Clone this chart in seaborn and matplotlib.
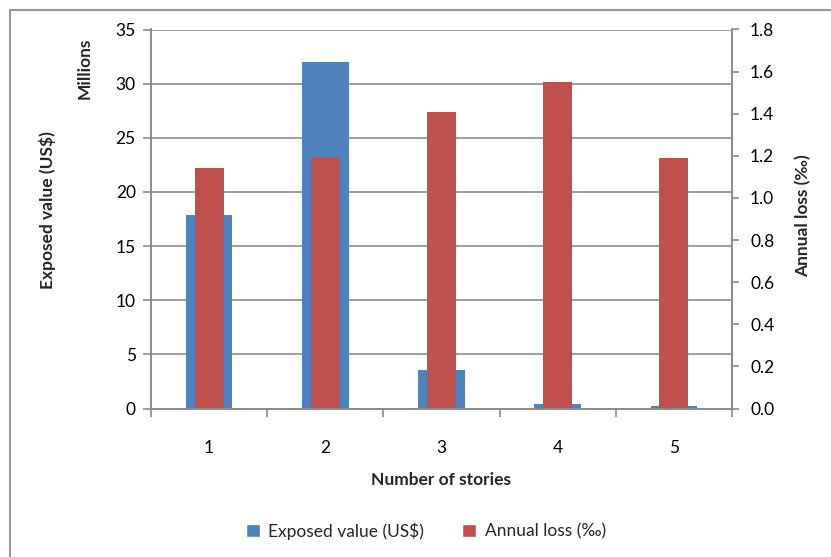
import matplotlib
matplotlib.use("Agg")
import matplotlib.pyplot as plt
import seaborn as sns
import pandas as pd
from matplotlib.ticker import FormatStrFormatter
from matplotlib.lines import Line2D
from matplotlib.patches import Patch

# Data
stories = ["1", "2", "3", "4", "5"]
exposed_millions = [17.9, 32.0, 3.55, 0.45, 0.2]
annual_loss_permil = [1.14, 1.19, 1.41, 1.55, 1.19]
left_ticks = [0, 5, 10, 15, 20, 25, 30, 35]
right_ticks = [0.0, 0.2, 0.4, 0.6, 0.8, 1.0, 1.2, 1.4, 1.6, 1.8]

BLUE = "#4F81BD"
RED = "#C0504D"
GRAY = "#8c8c8c"
FS = 12.5

sns.set_theme(style="white")
plt.rcParams["font.family"] = ["Lato", "DejaVu Sans"]

df = pd.DataFrame({
    "stories": stories,
    "exposed": exposed_millions,
    "loss": annual_loss_permil,
})

W, H = 831, 557
fig = plt.figure(figsize=(W / 100, H / 100), dpi=100)
ax = fig.add_axes([151 / W, 1 - 408.5 / H, 581 / W, 379 / H])

sns.barplot(data=df, x="stories", y="exposed", color=BLUE, width=0.4,
            saturation=1, linewidth=0, ax=ax, zorder=2)
ax2 = ax.twinx()
sns.barplot(data=df, x="stories", y="loss", color=RED, width=0.25,
            saturation=1, linewidth=0, ax=ax2, zorder=2)

ax.set_xlim(-0.5, 4.5)
ax.set_ylim(0, 35)
ax2.set_ylim(0, 1.8)
ax.set_yticks(left_ticks)
ax2.set_yticks(right_ticks)
ax2.yaxis.set_major_formatter(FormatStrFormatter("%.1f"))

ax.set_xlabel("")
ax.set_ylabel("")
ax2.set_ylabel("")

# Horizontal gridlines on the primary axis
ax.set_axisbelow(True)
ax.yaxis.grid(True, color=GRAY, linewidth=1.2)
ax.xaxis.grid(False)
ax2.grid(False)

for a in (ax, ax2):
    a.spines["top"].set_visible(False)
    for s in ("left", "right", "bottom"):
        a.spines[s].set_color(GRAY)
        a.spines[s].set_linewidth(1.3)

ax.tick_params(axis="y", left=True, direction="out", length=6, width=1.2,
               color=GRAY, pad=5, labelsize=FS, labelcolor="black")
ax2.tick_params(axis="y", right=True, direction="out", length=5, width=1.2,
                color=GRAY, pad=8, labelsize=FS, labelcolor="black")

# Category labels centred, tick marks on category boundaries
ax.set_xticks([i - 0.5 for i in range(6)], minor=True)
ax.tick_params(axis="x", which="minor", bottom=True, direction="out",
               length=6, width=1.2, color=GRAY)
ax.tick_params(axis="x", which="major", bottom=True, length=0, pad=23,
               labelsize=FS, labelcolor="black")

# Axis titles
fig.text(48 / W, 1 - 210 / H, "Exposed value (US$)", rotation=90,
         ha="center", va="center", fontsize=FS, fontweight="bold")
fig.text(85 / W, 1 - 68 / H, "Millions", rotation=90,
         ha="center", va="center", fontsize=FS, fontweight="bold")
fig.text(803 / W, 1 - 216 / H, "Annual loss (\u2030)", rotation=90,
         ha="center", va="center", fontsize=FS, fontweight="bold")
fig.text(441 / W, 1 - 480 / H, "Number of stories",
         ha="center", va="center", fontsize=FS, fontweight="bold")

handles = [Patch(facecolor=BLUE, label="Exposed value (US$)"),
           Patch(facecolor=RED, label="Annual loss (\u2030)")]
fig.legend(handles=handles, loc="center", ncol=2,
           bbox_to_anchor=(426 / W, 1 - 531 / H), frameon=False,
           fontsize=FS, handlelength=0.8, handleheight=0.8,
           handletextpad=0.5, columnspacing=2.2)

# Chart-area border (top and left edges)
fig.add_artist(Line2D([10 / W, 10 / W, 1.0], [0.0, 1 - 10 / H, 1 - 10 / H],
                      transform=fig.transFigure, color="#999999",
                      linewidth=1.5))

fig.savefig("out.png", dpi=100)
